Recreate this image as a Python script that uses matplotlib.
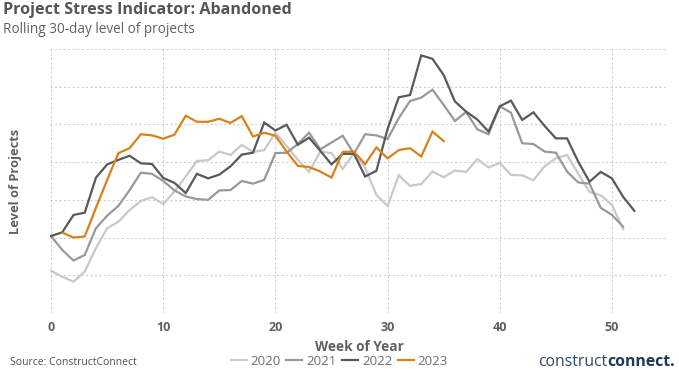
import matplotlib
matplotlib.use("Agg")
import matplotlib.pyplot as plt
from matplotlib.lines import Line2D

plt.rcParams["font.family"] = ["Open Sans", "DejaVu Sans"]

# weekly rolling level of abandoned projects (arbitrary units)
weeks_2020 = list(range(0, 52))
level_2020 = [11.2, 9.6, 8.3, 11.0, 17.2, 22.5, 24.2, 27.3, 29.7, 30.7,
              28.9, 32.2, 36.2, 40.3, 40.5, 42.8, 41.9, 44.6, 42.7, 43.2,
              47.8, 44.3, 40.6, 37.4, 42.8, 42.4, 38.2, 42.4, 38.5, 31.3,
              28.4, 36.5, 33.7, 34.2, 37.5, 36.0, 37.8, 37.4, 40.8, 38.6,
              39.8, 36.6, 36.5, 35.2, 38.9, 41.0, 41.9, 36.9, 32.1, 31.2,
              28.7, 22.2]

weeks_2021 = list(range(0, 52))
level_2021 = [20.4, 16.7, 13.9, 15.4, 22.5, 25.8, 28.4, 32.6, 37.2, 36.9,
              35.0, 32.5, 30.9, 30.2, 30.0, 32.5, 32.6, 35.0, 34.3, 35.3,
              42.4, 42.5, 44.8, 47.8, 43.4, 45.2, 47.0, 42.2, 47.4, 47.1,
              46.1, 51.7, 56.2, 57.1, 59.2, 55.2, 50.9, 53.3, 48.7, 47.4,
              54.8, 53.1, 45.0, 44.8, 42.8, 42.5, 37.5, 34.6, 34.3, 27.9,
              26.0, 22.9]

weeks_2022 = list(range(0, 53))
level_2022 = [20.4, 21.4, 26.0, 26.6, 35.9, 39.4, 40.6, 41.7, 39.7, 39.5,
              35.8, 34.5, 31.8, 36.9, 35.7, 36.7, 38.9, 42.0, 42.5, 50.5,
              48.4, 49.9, 44.6, 46.5, 43.0, 39.4, 42.2, 42.2, 36.2, 37.7,
              48.8, 57.2, 57.8, 68.3, 67.4, 63.1, 56.1, 53.4, 51.3, 48.1,
              54.8, 56.3, 51.2, 53.2, 49.6, 46.3, 46.3, 40.1, 34.8, 37.4,
              35.7, 30.8, 27.1]

weeks_2023 = list(range(1, 36))
level_2023 = [21.3, 20.0, 20.3, 27.9, 35.3, 42.4, 43.7, 47.4, 47.1, 46.2,
              47.3, 52.3, 50.7, 50.7, 51.5, 50.4, 52.2, 46.8, 47.8, 47.0,
              42.8, 39.0, 38.7, 37.5, 35.9, 42.7, 42.8, 39.5, 43.9, 41.0,
              43.2, 43.7, 41.5, 48.1, 45.6]

series = [
    ("2020", weeks_2020, level_2020, "#c9c9c9"),
    ("2021", weeks_2021, level_2021, "#999999"),
    ("2022", weeks_2022, level_2022, "#595959"),
    ("2023", weeks_2023, level_2023, "#d9811c"),
]

x_ticks = [0, 10, 20, 30, 40, 50]

fig = plt.figure(figsize=(6.79, 3.72), dpi=100)
ax = fig.add_axes([0.0736, 0.1586, 0.9102, 0.7097])

for name, wk, lv, col in series:
    ax.plot(wk, lv, color=col, linewidth=1.6, solid_joinstyle="miter", label=name)

ax.set_xlim(-0.1, 55)
ax.set_ylim(0, 70)
ax.set_xticks(x_ticks)
ax.set_yticks(range(0, 71, 10))
ax.set_yticklabels([])
ax.grid(True, color="#d2d2d2", linestyle=(0, (2, 2)), linewidth=0.8)
ax.set_axisbelow(True)
for s in ax.spines.values():
    s.set_visible(False)
ax.tick_params(axis="both", length=0)
ax.tick_params(axis="x", pad=6, labelsize=9, labelcolor="#606060")
for lab in ax.get_xticklabels():
    lab.set_fontweight("bold")

ax.set_xlabel("Week of Year", fontsize=9.8, fontweight="bold", color="#606060", labelpad=4)
ax.set_ylabel("Level of Projects", fontsize=9.3, fontweight="bold", color="#606060", labelpad=17)

fig.text(0.005, 0.972, "Project Stress Indicator: Abandoned", fontsize=11.6,
         fontweight="bold", color="#555555", va="center", ha="left")
fig.text(0.005, 0.922, "Rolling 30-day level of projects", fontsize=9.8,
         color="#606060", va="center", ha="left")

handles = [Line2D([0], [0], color=c, linewidth=1.6) for _, _, _, c in series]
fig.legend(handles, [n for n, _, _, _ in series], loc="center", ncol=4,
           bbox_to_anchor=(0.5, 0.028), frameon=False, fontsize=9.6,
           handlelength=1.2, handletextpad=0.3, columnspacing=0.4,
           labelcolor="#707070")

fig.text(0.015, 0.025, "Source: ConstructConnect", fontsize=7.5, color="#505050",
         va="center", ha="left")

# logo wordmark
fig.text(0.895, 0.028, "construct", fontsize=11.3, color="#2c4a66",
         va="center", ha="right")
fig.text(0.895, 0.028, "connect.", fontsize=11.3, color="#1d3a57", fontweight="bold",
         va="center", ha="left")

fig.savefig("out.png", dpi=100)
